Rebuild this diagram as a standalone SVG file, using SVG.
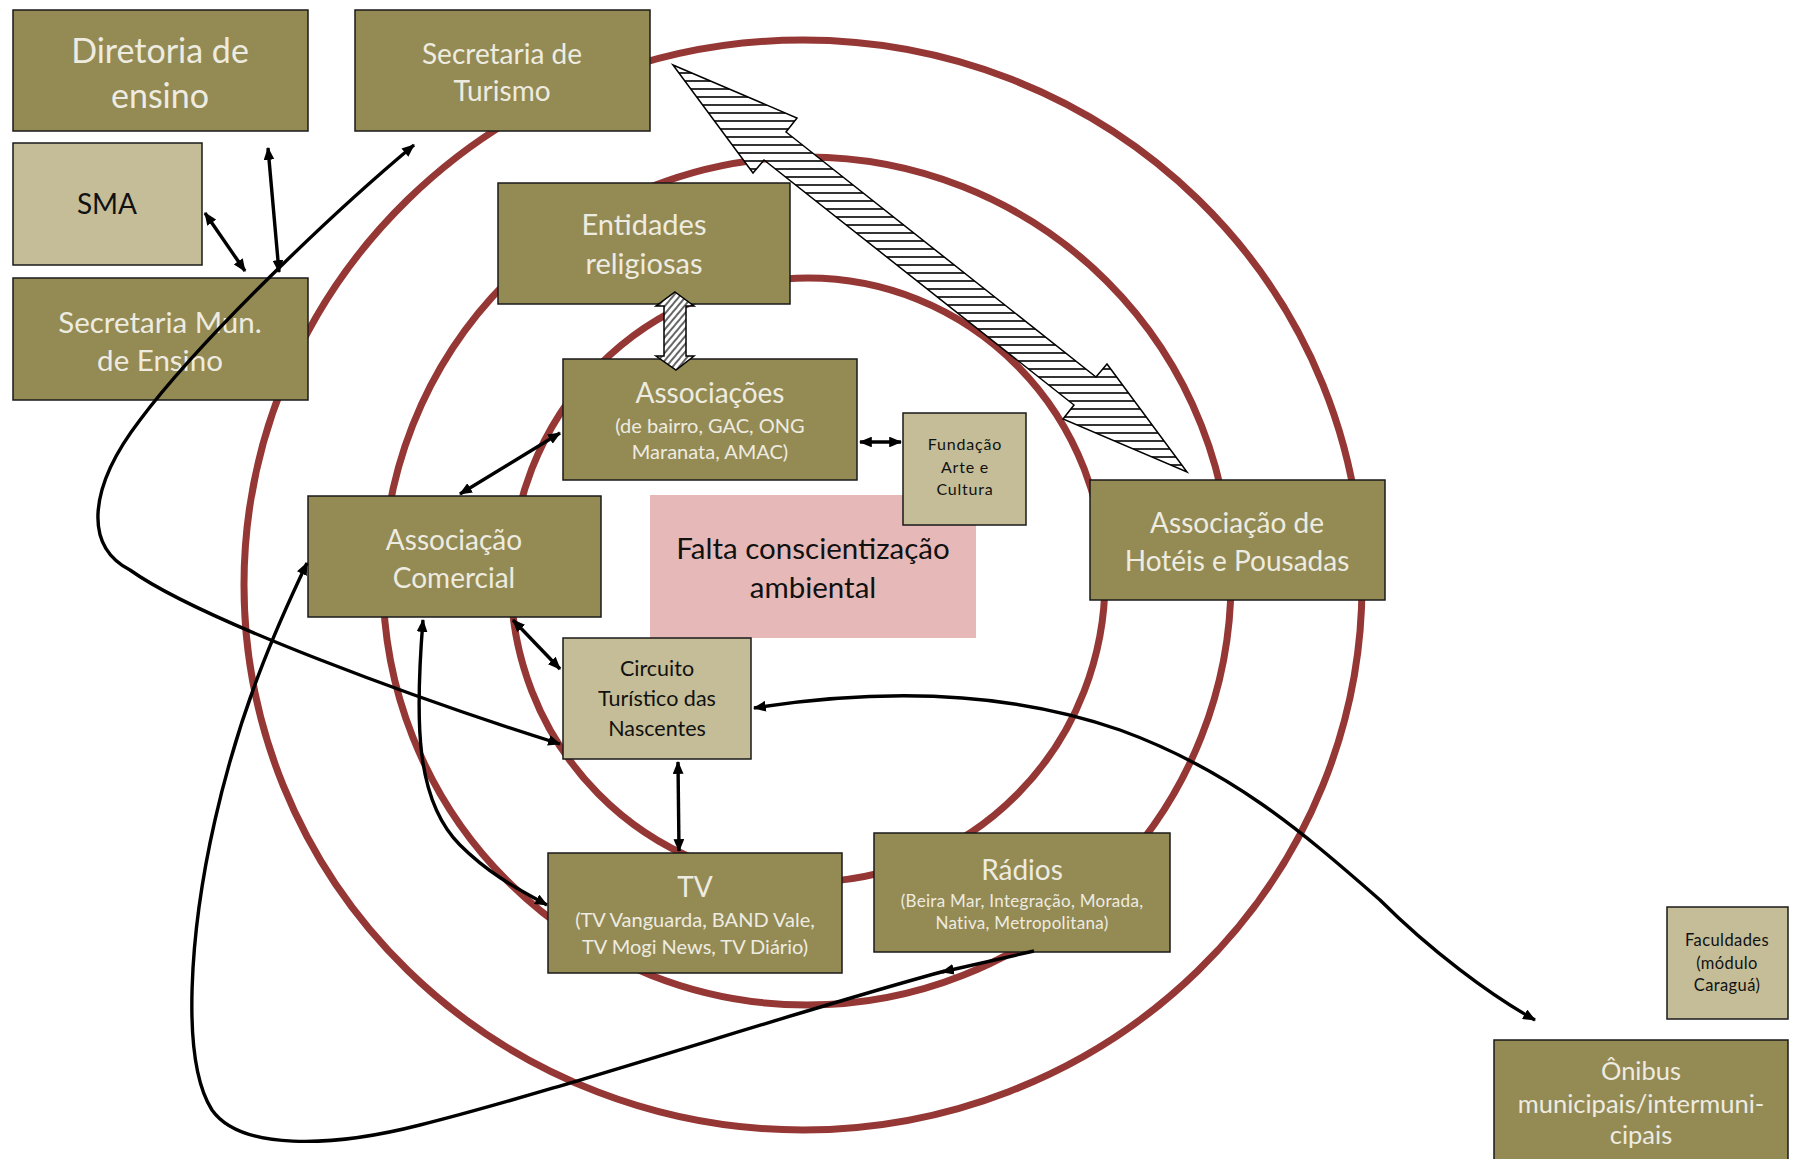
<svg xmlns="http://www.w3.org/2000/svg" width="1795" height="1159" viewBox="0 0 1795 1159">
<style>
.ring{fill:none;stroke:#953735;stroke-width:7}
.ol{fill:#948A54;stroke:#1a1a1a;stroke-width:1.5}
.tn{fill:#C4BD97;stroke:#1a1a1a;stroke-width:1.5}
.lt{fill:#EEECE1;font-family:Lato,"Liberation Sans",sans-serif;text-anchor:middle}
.dk{fill:#111;font-family:Lato,"Liberation Sans",sans-serif;text-anchor:middle}
.cn{fill:none;stroke:#000;stroke-width:3.4;marker-end:url(#ah);marker-start:url(#ah)}
.one{fill:none;stroke:#000;stroke-width:3.4;marker-end:url(#ah)}
.hat{stroke:#000;stroke-width:1.5;stroke-linejoin:miter}
</style>
<defs>
<marker id="ah" viewBox="0 0 12 10" refX="11" refY="5" markerWidth="3.8" markerHeight="3.2" orient="auto-start-reverse" markerUnits="strokeWidth">
<path d="M0,0 L12,5 L0,10 z" fill="#000"/>
</marker>
<pattern id="hz" patternUnits="userSpaceOnUse" width="10" height="8">
<rect width="10" height="8" fill="#fff"/>
<line x1="0" y1="1" x2="10" y2="1" stroke="#000" stroke-width="1.6"/>
</pattern>
<pattern id="dg" patternUnits="userSpaceOnUse" width="5" height="5" patternTransform="rotate(-50)">
<rect width="5" height="5" fill="#fff"/>
<line x1="0" y1="1" x2="5" y2="1" stroke="#000" stroke-width="1.2"/>
</pattern>
</defs>
<rect width="1795" height="1159" fill="#fff"/>
<g id="rings">
<ellipse class="ring" cx="803" cy="585" rx="559" ry="545"/>
<ellipse class="ring" cx="807" cy="581" rx="424" ry="424"/>
<ellipse class="ring" cx="808" cy="580" rx="297" ry="302"/>
</g>
<g id="n-diretoria"><rect class="ol" x="13" y="10" width="295" height="121"/>
<text class="lt" font-size="34"><tspan x="160" y="63">Diretoria de</tspan><tspan x="160" y="108">ensino</tspan></text></g>
<g id="n-turismo"><rect class="ol" x="355" y="10" width="295" height="121"/>
<text class="lt" font-size="28"><tspan x="502" y="64">Secretaria de</tspan><tspan x="502" y="101">Turismo</tspan></text></g>
<g id="n-sma"><rect class="tn" x="13" y="143" width="189" height="122"/>
<text class="dk" font-size="28" x="107" y="214">SMA</text></g>
<g id="n-secmun"><rect class="ol" x="13" y="278" width="295" height="122"/>
<text class="lt" font-size="29.5"><tspan x="160" y="333">Secretaria Mun.</tspan><tspan x="160" y="371">de Ensino</tspan></text></g>
<g id="n-entidades"><rect class="ol" x="498" y="183" width="292" height="121"/>
<text class="lt" font-size="29"><tspan x="644" y="235">Entidades</tspan><tspan x="644" y="274">religiosas</tspan></text></g>
<g id="n-associacoes"><rect class="ol" x="563" y="359" width="294" height="121"/>
<text class="lt" font-size="28" x="710" y="403">Associações</text>
<text class="lt" font-size="20"><tspan x="710" y="433">(de bairro, GAC, ONG</tspan><tspan x="710" y="459">Maranata, AMAC)</tspan></text></g>
<g id="n-comercial"><rect class="ol" x="308" y="496" width="293" height="121"/>
<text class="lt" font-size="28"><tspan x="454" y="550">Associação</tspan><tspan x="454" y="588">Comercial</tspan></text></g>
<g id="n-falta"><rect x="650" y="495" width="326" height="143" fill="#E6B9B8"/>
<text class="dk" font-size="29.5" fill="#1e1e30"><tspan x="813" y="559">Falta conscientização</tspan><tspan x="813" y="598">ambiental</tspan></text></g>
<g id="n-fundacao"><rect class="tn" x="903" y="413" width="123" height="112"/>
<text class="dk" font-size="16" letter-spacing="0.8"><tspan x="965" y="450">Fundação</tspan><tspan x="965" y="473">Arte e</tspan><tspan x="965" y="495">Cultura</tspan></text></g>
<g id="n-circuito"><rect class="tn" x="563" y="638" width="188" height="121"/>
<text class="dk" font-size="21.5"><tspan x="657" y="676">Circuito</tspan><tspan x="657" y="706">Turístico das</tspan><tspan x="657" y="736">Nascentes</tspan></text></g>
<g id="n-hoteis"><rect class="ol" x="1090" y="480" width="295" height="120"/>
<text class="lt" font-size="28"><tspan x="1237" y="533">Associação de</tspan><tspan x="1237" y="571">Hotéis e Pousadas</tspan></text></g>
<g id="n-tv"><rect class="ol" x="548" y="853" width="294" height="120"/>
<text class="lt" font-size="28" x="695" y="897">TV</text>
<text class="lt" font-size="20"><tspan x="695" y="927">(TV Vanguarda, BAND Vale,</tspan><tspan x="695" y="954">TV Mogi News, TV Diário)</tspan></text></g>
<g id="n-radios"><rect class="ol" x="874" y="833" width="296" height="119"/>
<text class="lt" font-size="28" x="1022" y="880">Rádios</text>
<text class="lt" font-size="17" letter-spacing="0.3"><tspan x="1022" y="907">(Beira Mar, Integração, Morada,</tspan><tspan x="1022" y="929">Nativa, Metropolitana)</tspan></text></g>
<g id="n-faculdades"><rect class="tn" x="1667" y="907" width="121" height="112"/>
<text class="dk" font-size="16.5" letter-spacing="0.4"><tspan x="1727" y="946">Faculdades</tspan><tspan x="1727" y="969">(módulo</tspan><tspan x="1727" y="991">Caraguá)</tspan></text></g>
<g id="n-onibus"><rect class="ol" x="1494" y="1040" width="294" height="125"/>
<text class="lt" font-size="25.5"><tspan x="1641" y="1080">Ônibus</tspan><tspan x="1641" y="1113">municipais/intermuni-</tspan><tspan x="1641" y="1144">cipais</tspan></text></g>
<g id="connectors">
<polygon class="hat" fill="url(#hz)" points="673,65 797,118 786,132 1096,377 1107,364 1187,472 1063,419 1074,405 764,160 753,173"/>
<polygon class="hat" fill="url(#dg)" points="675,292 694,306 686,306 686,356 694,356 676,370 656,356 664,356 664,306 656,306"/>
<line class="cn" x1="205" y1="213" x2="245" y2="271"/>
<line class="cn" x1="268" y1="148" x2="279" y2="272"/>
<path class="cn" d="M414,145 C330,215 200,340 140,420 C90,485 82,545 130,570 C200,620 420,700 560,744"/>
<line class="cn" x1="560" y1="433" x2="460" y2="494"/>
<line class="cn" x1="860" y1="442" x2="901" y2="442"/>
<line class="cn" x1="513" y1="620" x2="560" y2="669"/>
<line class="cn" x1="678" y1="762" x2="679" y2="851"/>
<path class="cn" d="M423,620 C415,720 415,800 460,845 C490,875 520,890 547,905"/>
<path class="cn" d="M754,708 C870,690 1000,688 1120,730 C1230,770 1300,830 1380,900 C1430,950 1490,995 1535,1020"/>
<path class="one" d="M1034,951 L942,972"/>
<path class="one" d="M945,971 C800,1010 560,1090 420,1125 C330,1148 240,1150 212,1110 C180,1060 190,930 215,820 C240,710 275,630 307,563"/>
</g>
</svg>
